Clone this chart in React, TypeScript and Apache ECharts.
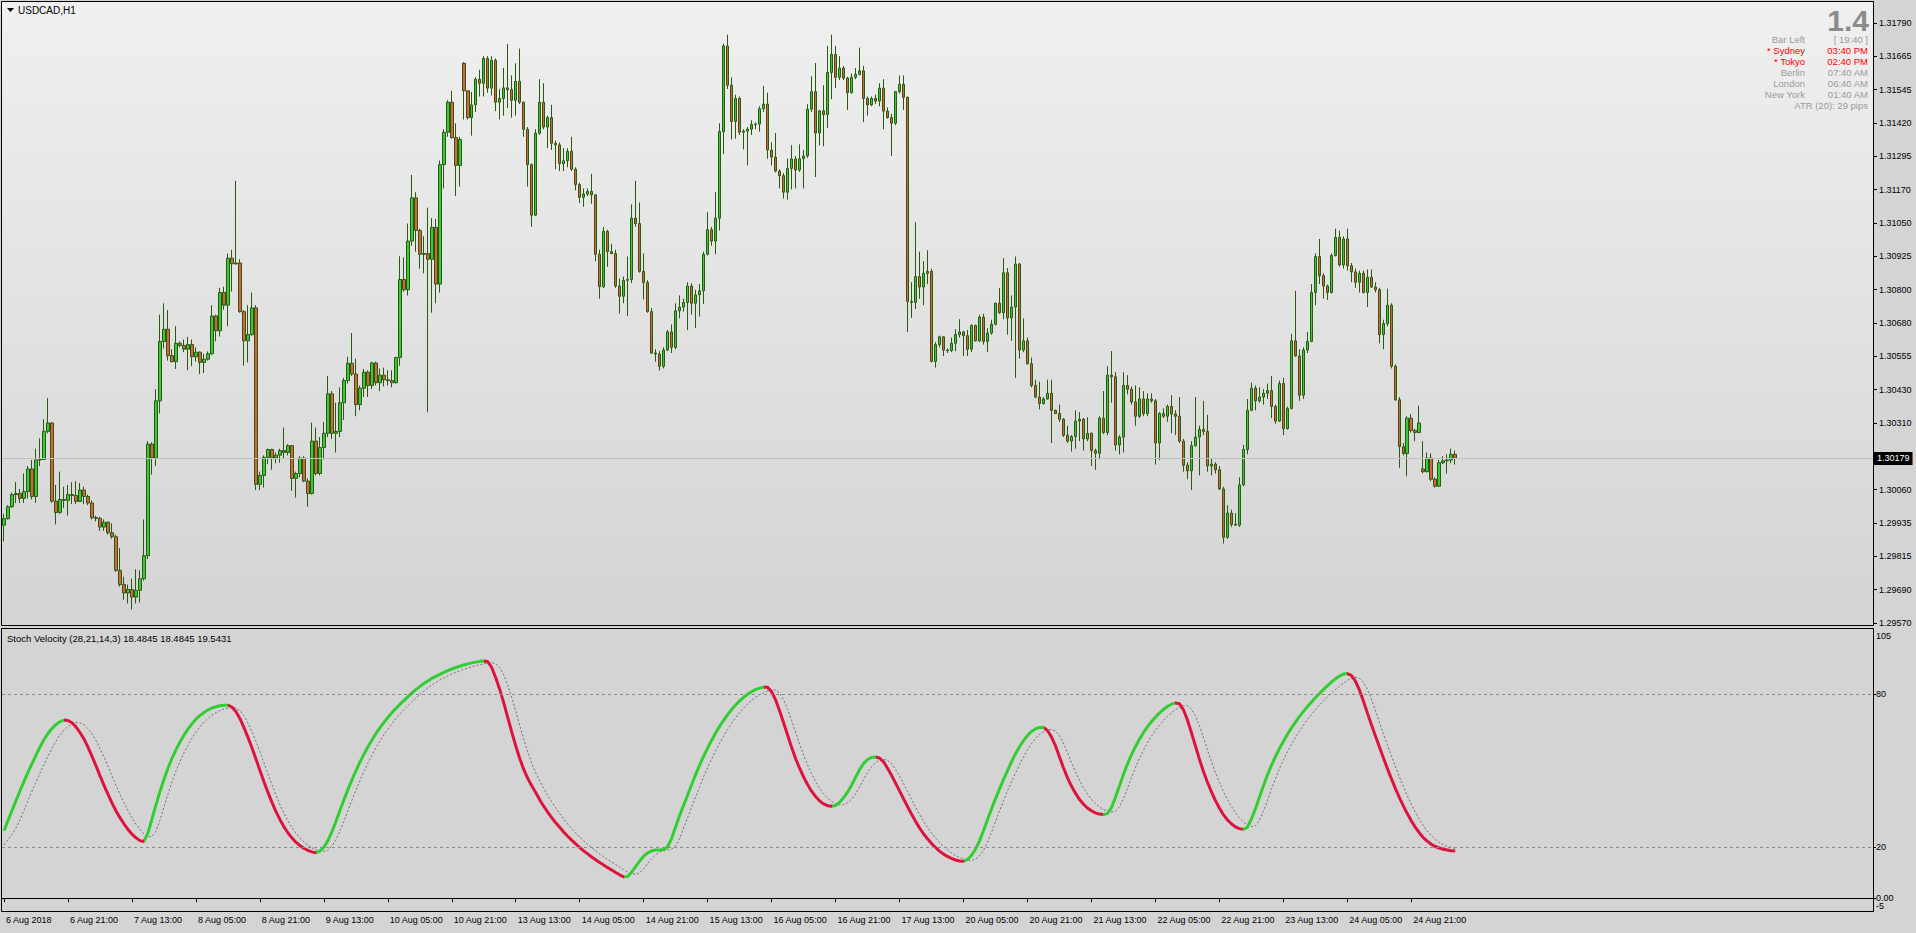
import { useEffect, useRef } from "react";
import * as echarts from "echarts";

// [open, close, low, high]
const week1: number[][] = [
  [1.29932,1.29956,1.29872,1.29974],[1.29956,1.30000,1.29953,1.30006],[1.30000,1.30045,1.29996,1.30052],[1.30045,1.30049,1.30014,1.30092],[1.30049,1.30031,1.30014,1.30066],
  [1.30031,1.30056,1.30014,1.30123],[1.30056,1.30140,1.30031,1.30151],[1.30140,1.30038,1.30027,1.30173],[1.30038,1.30173,1.30014,1.30215],[1.30173,1.30175,1.30151,1.30253],
  [1.30175,1.30279,1.30173,1.30324],[1.30279,1.30310,1.30272,1.30402],[1.30310,1.30021,1.30014,1.30314],[1.30021,1.29979,1.29935,1.30081],[1.29979,1.30027,1.29974,1.30130],
  [1.30027,1.30024,1.29996,1.30074],[1.30024,1.30045,1.29967,1.30081],[1.30045,1.30042,1.30010,1.30091],[1.30042,1.30020,1.30010,1.30095],[1.30020,1.30062,1.30017,1.30088],
  [1.30062,1.30038,1.30010,1.30074],[1.30038,1.30014,1.30006,1.30045],[1.30014,1.29960,1.29953,1.30024],[1.29960,1.29957,1.29946,1.29967],[1.29957,1.29925,1.29911,1.29963],
  [1.29925,1.29943,1.29911,1.29953],[1.29943,1.29904,1.29897,1.29946],[1.29904,1.29889,1.29882,1.29939],[1.29889,1.29765,1.29759,1.29897],[1.29765,1.29712,1.29705,1.29847],
  [1.29712,1.29681,1.29656,1.29741],[1.29681,1.29694,1.29642,1.29712],[1.29694,1.29666,1.29620,1.29734],[1.29666,1.29691,1.29642,1.29769],[1.29691,1.29734,1.29646,1.29765],
  [1.29734,1.29819,1.29727,1.29953],[1.29819,1.30232,1.29807,1.30243],[1.30232,1.30180,1.30119,1.30239],[1.30180,1.30392,1.30151,1.30435],[1.30392,1.30612,1.30345,1.30711],
  [1.30612,1.30657,1.30586,1.30753],[1.30657,1.30559,1.30541,1.30728],[1.30559,1.30537,1.30534,1.30583],[1.30537,1.30605,1.30510,1.30668],[1.30605,1.30597,1.30590,1.30612],
  [1.30597,1.30583,1.30572,1.30619],[1.30583,1.30600,1.30505,1.30629],[1.30600,1.30555,1.30520,1.30619],[1.30555,1.30572,1.30537,1.30590],[1.30572,1.30534,1.30491,1.30575],
  [1.30534,1.30546,1.30495,1.30566],[1.30546,1.30566,1.30541,1.30575],[1.30566,1.30706,1.30562,1.30746],[1.30706,1.30651,1.30612,1.30711],[1.30651,1.30793,1.30630,1.30810],
  [1.30793,1.30746,1.30729,1.30814],[1.30746,1.30920,1.30668,1.30937],[1.30920,1.30899,1.30796,1.30951],[1.30899,1.30902,1.30895,1.31206],[1.30902,1.30722,1.30718,1.30916],
  [1.30722,1.30614,1.30522,1.30728],[1.30614,1.30637,1.30534,1.30746],[1.30637,1.30736,1.30633,1.30793],[1.30736,1.30083,1.30062,1.30746],[1.30083,1.30116,1.30062,1.30130],
  [1.30116,1.30183,1.30071,1.30190],[1.30183,1.30212,1.30158,1.30215],[1.30212,1.30180,1.30137,1.30215],[1.30180,1.30191,1.30161,1.30201],[1.30191,1.30208,1.30163,1.30215],
  [1.30208,1.30201,1.30180,1.30293],[1.30201,1.30226,1.30190,1.30232],[1.30226,1.30105,1.30059,1.30229],[1.30105,1.30123,1.30034,1.30130],[1.30123,1.30180,1.30109,1.30187],
  [1.30180,1.30095,1.30091,1.30187],[1.30095,1.30049,1.30000,1.30105],[1.30049,1.30243,1.30045,1.30311],[1.30243,1.30123,1.30116,1.30293],[1.30123,1.30219,1.30116,1.30258],
  [1.30219,1.30272,1.30175,1.30314],[1.30272,1.30418,1.30258,1.30484],[1.30418,1.30272,1.30251,1.30428],[1.30272,1.30279,1.30201,1.30385],[1.30279,1.30385,1.30258,1.30442],
  [1.30385,1.30467,1.30321,1.30477],[1.30467,1.30531,1.30456,1.30555],[1.30531,1.30491,1.30484,1.30643],[1.30491,1.30378,1.30335,1.30548],[1.30378,1.30439,1.30357,1.30449],
  [1.30439,1.30498,1.30406,1.30510],[1.30498,1.30449,1.30406,1.30505],[1.30449,1.30532,1.30435,1.30537],[1.30532,1.30459,1.30449,1.30537],[1.30459,1.30487,1.30428,1.30512],
  [1.30487,1.30470,1.30445,1.30515],[1.30470,1.30467,1.30449,1.30505],[1.30467,1.30459,1.30442,1.30505],[1.30459,1.30552,1.30456,1.30555],[1.30552,1.30841,1.30522,1.30927],
  [1.30841,1.30803,1.30796,1.30923],[1.30803,1.30983,1.30782,1.31048],[1.30983,1.31143,1.30966,1.31228],[1.31143,1.31022,1.30944,1.31164],[1.31022,1.30934,1.30881,1.31029],
  [1.30934,1.30937,1.30864,1.31001],[1.30937,1.30916,1.30350,1.31107],[1.30916,1.31034,1.30718,1.31068],[1.31034,1.30824,1.30753,1.31065],[1.30824,1.31266,1.30793,1.31281],
  [1.31266,1.31386,1.31178,1.31397],[1.31386,1.31497,1.31369,1.31504],[1.31497,1.31366,1.31362,1.31539],[1.31366,1.31263,1.31150,1.31419],[1.31263,1.31359,1.31185,1.31369],
];

const week2: number[][] = [
  [1.31641,1.31539,1.31433,1.31645],[1.31539,1.31440,1.31433,1.31539],[1.31440,1.31487,1.31373,1.31535],[1.31487,1.31582,1.31461,1.31589],[1.31582,1.31567,1.31518,1.31617],
  [1.31567,1.31659,1.31518,1.31667],[1.31659,1.31549,1.31532,1.31667],[1.31549,1.31652,1.31522,1.31667],[1.31652,1.31497,1.31464,1.31659],[1.31497,1.31511,1.31433,1.31546],
  [1.31511,1.31550,1.31447,1.31624],[1.31550,1.31543,1.31475,1.31713],[1.31543,1.31504,1.31440,1.31596],[1.31504,1.31574,1.31447,1.31641],[1.31574,1.31497,1.31490,1.31695],
  [1.31497,1.31397,1.31369,1.31499],[1.31397,1.31266,1.31185,1.31405],[1.31266,1.31079,1.31036,1.31270],[1.31079,1.31382,1.31076,1.31397],[1.31382,1.31497,1.31376,1.31582],
  [1.31497,1.31405,1.31397,1.31567],[1.31405,1.31440,1.31327,1.31447],[1.31440,1.31345,1.31320,1.31487],[1.31345,1.31339,1.31249,1.31355],[1.31339,1.31270,1.31242,1.31348],
  [1.31270,1.31280,1.31242,1.31327],[1.31280,1.31315,1.31256,1.31327],[1.31315,1.31249,1.31242,1.31369],[1.31249,1.31192,1.31171,1.31256],[1.31192,1.31145,1.31124,1.31199],
  [1.31145,1.31157,1.31110,1.31178],[1.31157,1.31167,1.31150,1.31178],[1.31167,1.31154,1.31121,1.31232],[1.31154,1.30934,1.30909,1.31157],[1.30934,1.30814,1.30770,1.30951],
  [1.30814,1.31019,1.30810,1.31036],[1.31019,1.30944,1.30888,1.31025],[1.30944,1.30937,1.30934,1.30973],[1.30937,1.30817,1.30810,1.30951],[1.30817,1.30779,1.30715,1.30845],
  [1.30779,1.30838,1.30753,1.30852],[1.30838,1.30841,1.30706,1.30926],[1.30841,1.31068,1.30828,1.31119],[1.31068,1.31048,1.31036,1.31206],[1.31048,1.30871,1.30866,1.31126],
  [1.30871,1.30830,1.30767,1.30937],[1.30830,1.30722,1.30718,1.30838],[1.30722,1.30569,1.30566,1.30736],[1.30569,1.30565,1.30537,1.30583],[1.30565,1.30520,1.30504,1.30576],
  [1.30520,1.30580,1.30512,1.30590],[1.30580,1.30647,1.30576,1.30654],[1.30647,1.30590,1.30569,1.30675],[1.30590,1.30725,1.30583,1.30753],[1.30725,1.30739,1.30697,1.30782],
  [1.30739,1.30756,1.30722,1.30770],[1.30756,1.30817,1.30654,1.30831],[1.30817,1.30753,1.30711,1.30827],[1.30753,1.30784,1.30661,1.30803],[1.30784,1.30799,1.30704,1.30824],
  [1.30799,1.30934,1.30750,1.30944],[1.30934,1.31025,1.30930,1.31090],[1.31025,1.30983,1.30966,1.31036],[1.30983,1.31068,1.30934,1.31164],[1.31068,1.31388,1.31022,1.31419],
  [1.31388,1.31705,1.31305,1.31713],[1.31705,1.31560,1.31546,1.31747],[1.31560,1.31426,1.31359,1.31589],[1.31426,1.31511,1.31362,1.31525],[1.31511,1.31386,1.31376,1.31518],
  [1.31386,1.31390,1.31322,1.31397],[1.31390,1.31397,1.31263,1.31405],[1.31397,1.31414,1.31376,1.31430],[1.31414,1.31416,1.31397,1.31422],[1.31416,1.31473,1.31388,1.31482],
  [1.31473,1.31490,1.31461,1.31557],[1.31490,1.31320,1.31288,1.31532],[1.31320,1.31294,1.31263,1.31348],[1.31294,1.31242,1.31237,1.31383],[1.31242,1.31225,1.31178,1.31249],
  [1.31225,1.31164,1.31140,1.31235],[1.31164,1.31252,1.31136,1.31288],[1.31252,1.31287,1.31174,1.31338],[1.31287,1.31246,1.31178,1.31298],[1.31246,1.31288,1.31239,1.31341],
  [1.31288,1.31298,1.31178,1.31320],[1.31298,1.31471,1.31291,1.31490],[1.31471,1.31536,1.31461,1.31593],[1.31536,1.31383,1.31220,1.31642],[1.31383,1.31465,1.31337,1.31468],
  [1.31465,1.31451,1.31334,1.31560],[1.31451,1.31607,1.31402,1.31705],[1.31607,1.31674,1.31508,1.31747],[1.31674,1.31589,1.31549,1.31705],[1.31589,1.31623,1.31579,1.31667],
  [1.31623,1.31586,1.31579,1.31631],[1.31586,1.31532,1.31468,1.31591],[1.31532,1.31589,1.31529,1.31603],[1.31589,1.31600,1.31582,1.31624],[1.31600,1.31613,1.31596,1.31699],
  [1.31613,1.31511,1.31423,1.31631],[1.31511,1.31487,1.31447,1.31518],[1.31487,1.31511,1.31482,1.31518],[1.31511,1.31501,1.31490,1.31525],[1.31501,1.31549,1.31482,1.31567],
  [1.31549,1.31464,1.31397,1.31582],[1.31464,1.31440,1.31436,1.31478],[1.31440,1.31419,1.31298,1.31454],[1.31419,1.31536,1.31412,1.31539],[1.31536,1.31563,1.31529,1.31596],
  [1.31563,1.31515,1.31468,1.31596],[1.31515,1.30760,1.30647,1.31518],[1.30760,1.30756,1.30699,1.30831],[1.30756,1.30852,1.30732,1.31053],[1.30852,1.30813,1.30770,1.30944],
  [1.30813,1.30864,1.30746,1.30909],[1.30864,1.30871,1.30824,1.30949],[1.30871,1.30538,1.30534,1.30881],[1.30538,1.30600,1.30515,1.30609],[1.30600,1.30629,1.30590,1.30633],
];

const week3: number[][] = [
  [1.30629,1.30580,1.30558,1.30632],[1.30580,1.30578,1.30569,1.30586],[1.30578,1.30605,1.30572,1.30626],[1.30605,1.30637,1.30576,1.30657],[1.30637,1.30647,1.30626,1.30694],
  [1.30647,1.30633,1.30558,1.30651],[1.30633,1.30583,1.30558,1.30654],[1.30583,1.30671,1.30572,1.30675],[1.30671,1.30614,1.30612,1.30674],[1.30614,1.30702,1.30609,1.30711],
  [1.30702,1.30612,1.30600,1.30714],[1.30612,1.30643,1.30572,1.30661],[1.30643,1.30675,1.30637,1.30692],[1.30675,1.30753,1.30671,1.30756],[1.30753,1.30718,1.30714,1.30810],
  [1.30718,1.30866,1.30694,1.30920],[1.30866,1.30699,1.30637,1.30883],[1.30699,1.30739,1.30614,1.30782],[1.30739,1.30898,1.30477,1.30926],[1.30898,1.30580,1.30548,1.30902],
  [1.30580,1.30614,1.30572,1.30697],[1.30614,1.30529,1.30527,1.30626],[1.30529,1.30449,1.30442,1.30552],[1.30449,1.30406,1.30402,1.30470],[1.30406,1.30382,1.30360,1.30463],
  [1.30382,1.30399,1.30378,1.30406],[1.30399,1.30420,1.30396,1.30470],[1.30420,1.30357,1.30236,1.30470],[1.30357,1.30345,1.30343,1.30360],[1.30345,1.30324,1.30314,1.30378],
  [1.30324,1.30265,1.30258,1.30328],[1.30265,1.30243,1.30236,1.30300],[1.30243,1.30260,1.30204,1.30265],[1.30260,1.30317,1.30215,1.30357],[1.30317,1.30324,1.30243,1.30350],
  [1.30324,1.30251,1.30208,1.30328],[1.30251,1.30272,1.30243,1.30331],[1.30272,1.30208,1.30151,1.30275],[1.30208,1.30198,1.30137,1.30215],[1.30198,1.30328,1.30175,1.30335],
  [1.30328,1.30275,1.30269,1.30428],[1.30275,1.30487,1.30265,1.30520],[1.30487,1.30481,1.30385,1.30576],[1.30481,1.30229,1.30208,1.30498],[1.30229,1.30258,1.30194,1.30265],
  [1.30258,1.30449,1.30201,1.30498],[1.30449,1.30435,1.30416,1.30487],[1.30435,1.30388,1.30378,1.30445],[1.30388,1.30335,1.30300,1.30449],[1.30335,1.30399,1.30328,1.30442],
  [1.30399,1.30345,1.30335,1.30428],[1.30345,1.30399,1.30335,1.30420],[1.30399,1.30392,1.30385,1.30420],[1.30392,1.30236,1.30156,1.30399],[1.30236,1.30345,1.30173,1.30350],
  [1.30345,1.30335,1.30328,1.30364],[1.30335,1.30371,1.30314,1.30378],[1.30371,1.30343,1.30272,1.30413],[1.30343,1.30335,1.30265,1.30357],[1.30335,1.30243,1.30236,1.30406],
  [1.30243,1.30154,1.30130,1.30251],[1.30154,1.30133,1.30102,1.30165],[1.30133,1.30226,1.30062,1.30243],[1.30226,1.30258,1.30222,1.30406],[1.30258,1.30286,1.30116,1.30300],
  [1.30286,1.30279,1.30265,1.30392],[1.30279,1.30151,1.30130,1.30340],[1.30151,1.30158,1.30116,1.30180],[1.30158,1.30137,1.30123,1.30165],[1.30137,1.30066,1.30062,1.30151],
  [1.30066,1.29887,1.29864,1.30074],[1.29887,1.29977,1.29882,1.30006],[1.29977,1.29935,1.29925,1.29989],[1.29935,1.29932,1.29929,1.29977],[1.29932,1.30081,1.29925,1.30109],
  [1.30081,1.30212,1.30076,1.30229],[1.30212,1.30357,1.30194,1.30399],[1.30357,1.30439,1.30354,1.30459],[1.30439,1.30392,1.30357,1.30449],[1.30392,1.30406,1.30385,1.30442],
  [1.30406,1.30420,1.30378,1.30435],[1.30420,1.30430,1.30399,1.30456],[1.30430,1.30371,1.30328,1.30484],[1.30371,1.30317,1.30307,1.30378],[1.30317,1.30456,1.30314,1.30467],
  [1.30456,1.30289,1.30265,1.30477],[1.30289,1.30364,1.30286,1.30371],[1.30364,1.30614,1.30360,1.30640],[1.30614,1.30558,1.30555,1.30799],[1.30558,1.30413,1.30392,1.30583],
  [1.30413,1.30580,1.30399,1.30590],[1.30580,1.30612,1.30569,1.30647],[1.30612,1.30793,1.30609,1.30824],[1.30793,1.30926,1.30746,1.30937],[1.30926,1.30855,1.30824,1.30991],
  [1.30855,1.30817,1.30770,1.30864],[1.30817,1.30793,1.30765,1.30822],[1.30793,1.30930,1.30789,1.30937],[1.30930,1.30997,1.30926,1.31029],[1.30997,1.30895,1.30888,1.31022],
  [1.30895,1.30991,1.30881,1.31001],[1.30991,1.30892,1.30874,1.31029],[1.30892,1.30869,1.30831,1.30902],[1.30869,1.30831,1.30810,1.30881],[1.30831,1.30864,1.30793,1.30874],
  [1.30864,1.30793,1.30789,1.30874],[1.30793,1.30849,1.30739,1.30878],[1.30849,1.30813,1.30810,1.30878],[1.30813,1.30803,1.30793,1.30831],[1.30803,1.30637,1.30605,1.30810],
  [1.30637,1.30678,1.30583,1.30692],[1.30678,1.30746,1.30668,1.30807],[1.30746,1.30520,1.30512,1.30753],[1.30520,1.30396,1.30392,1.30527],[1.30396,1.30222,1.30144,1.30406],
  [1.30222,1.30197,1.30190,1.30236],[1.30197,1.30328,1.30113,1.30335],[1.30328,1.30282,1.30275,1.30343],[1.30282,1.30275,1.30243,1.30289],[1.30275,1.30310,1.30272,1.30374],
];

const week4: number[][] = [
  [1.30140,1.30130,1.30123,1.30243],[1.30130,1.30180,1.30127,1.30201],[1.30180,1.30102,1.30095,1.30198],[1.30102,1.30076,1.30071,1.30109],[1.30076,1.30163,1.30074,1.30173],
  [1.30163,1.30170,1.30158,1.30187],[1.30170,1.30173,1.30123,1.30194],[1.30173,1.30194,1.30161,1.30215],[1.30194,1.30179,1.30156,1.30208],
];

const stochMain: number[] = [
  26.5,30.5,34.4,38.3,42.1,45.8,49.4,52.8,56.1,59.3,
  62.2,64.6,66.6,68.1,69.2,69.9,69.7,68.8,67.2,65.0,
  62.5,59.3,55.7,52.0,48.1,44.3,40.8,37.4,34.3,31.6,
  29.2,27.0,25.2,23.7,22.6,22.2,25.5,31.0,36.5,41.8,
  46.6,51.0,54.8,58.2,61.2,63.9,66.3,68.4,70.2,71.6,
  72.8,73.8,74.6,75.1,75.5,75.7,75.7,75.0,73.2,70.5,
  67.0,63.2,59.1,54.7,50.2,45.8,41.6,37.7,34.1,30.9,
  28.1,25.7,23.7,22.0,20.7,19.6,18.8,18.2,17.8,18.5,
  20.0,22.5,26.0,30.0,34.3,38.5,42.5,46.3,49.9,53.3,
  56.4,59.3,62.0,64.5,66.8,68.9,70.9,72.7,74.4,76.0,
  77.5,79.0,80.4,81.8,83.0,84.2,85.2,86.2,87.0,87.8,
  88.6,89.3,89.9,90.5,91.0,91.5,91.9,92.3,92.6,92.9,
  93.0,92.8,90.5,86.5,81.9,76.6,70.9,65.2,59.8,54.8,
  50.5,47.0,44.1,41.5,38.6,36.1,33.8,31.6,29.6,27.8,
  26.0,24.3,22.8,21.3,19.9,18.6,17.4,16.2,15.1,14.0,
  13.0,12.0,11.1,10.1,9.2,8.4,8.5,10.2,12.4,14.6,
  16.5,17.8,18.6,18.9,18.9,19.1,20.2,23.5,28.0,32.5,
  36.5,40.5,44.5,48.5,52.2,55.7,58.9,62.0,64.8,67.4,
  69.8,72.0,74.0,75.8,77.4,78.8,80.0,81.0,81.8,82.4,
  82.8,82.7,81.0,77.8,73.5,68.8,64.0,59.2,54.8,51.0,
  47.6,44.6,42.0,39.9,38.2,37.0,36.3,36.1,36.4,37.6,
  39.4,41.6,44.3,47.4,50.4,52.8,54.4,55.2,55.4,55.0,
  53.5,51.0,48.2,45.2,42.1,39.0,36.0,33.0,30.2,27.6,
  25.3,23.3,21.5,19.9,18.5,17.3,16.4,15.6,15.0,14.6,
  14.5,15.2,16.8,19.2,22.5,26.5,30.8,35.0,39.0,42.8,
  46.5,50.0,53.5,56.6,59.4,61.8,63.8,65.4,66.4,67.0,
  67.0,65.8,63.3,59.8,55.5,51.2,47.3,44.0,41.2,38.8,
  36.9,35.4,34.3,33.5,33.0,32.8,33.2,35.5,39.5,44.0,
  48.5,52.6,56.2,59.4,62.3,64.9,67.2,69.2,71.0,72.6,
  74.0,75.2,76.1,76.6,76.3,74.0,70.0,65.0,59.8,54.6,
  49.8,45.6,41.8,38.4,35.4,32.8,30.8,29.2,28.0,27.3,
  27.0,27.8,31.0,35.0,39.5,44.0,48.2,52.0,55.4,58.6,
  61.5,64.2,66.7,69.0,71.2,73.2,75.1,76.9,78.6,80.2,
  81.8,83.3,84.7,86.0,87.1,87.9,88.1,87.4,85.2,81.8,
  77.5,72.8,68.2,63.8,59.5,55.2,51.0,47.0,43.2,39.6,
  36.3,33.2,30.4,27.9,25.7,23.8,22.4,21.2,20.3,19.7,
  19.2,18.9,18.6,18.4845,
];

const stochSignal: number[] = [
  21.0,23.0,25.0,27.5,30.8,34.5,38.3,42.0,45.6,49.1,
  52.5,55.7,58.8,61.6,64.0,65.9,67.4,68.4,68.9,68.8,
  68.0,66.5,64.5,61.9,58.8,55.4,51.8,48.0,44.3,40.8,
  37.5,34.4,31.6,29.1,27.0,25.2,24.1,24.2,26.3,30.5,
  35.6,40.8,45.5,49.8,53.6,57.0,60.0,62.7,65.1,67.2,
  69.0,70.5,71.8,72.8,73.6,74.2,74.6,74.8,74.6,73.6,
  71.6,68.8,65.4,61.6,57.5,53.2,48.8,44.6,40.6,36.8,
  33.4,30.4,27.8,25.6,23.7,22.1,20.8,19.8,19.0,18.5,
  18.4,18.9,20.4,22.9,26.2,30.1,34.2,38.3,42.3,46.0,
  49.6,52.9,56.0,58.9,61.6,64.0,66.3,68.4,70.4,72.2,
  73.9,75.5,77.0,78.5,79.9,81.2,82.5,83.6,84.6,85.6,
  86.4,87.2,87.9,88.6,89.2,89.8,90.3,90.8,91.2,91.6,
  91.9,92.2,92.3,92.0,90.4,87.6,83.6,78.8,73.4,67.8,
  62.4,57.4,53.0,49.2,46.0,43.1,40.4,37.8,35.4,33.2,
  31.1,29.1,27.3,25.6,24.0,22.5,21.1,19.8,18.6,17.4,
  16.3,15.2,14.2,13.2,12.2,11.2,10.3,9.6,9.4,10.0,
  11.6,13.6,15.5,17.0,18.1,18.6,18.9,19.3,20.5,23.4,
  27.5,31.6,35.8,39.8,43.8,47.6,51.2,54.6,57.8,60.8,
  63.6,66.2,68.6,70.8,72.8,74.6,76.2,77.6,78.8,79.8,
  80.6,81.3,81.8,81.7,80.5,77.8,74.1,69.8,65.2,60.5,
  56.2,52.3,48.8,45.8,43.2,41.0,39.3,38.0,37.1,36.6,
  36.7,37.4,38.9,41.0,43.6,46.5,49.3,51.6,53.3,54.2,
  54.5,54.1,52.8,50.6,47.9,45.0,41.9,38.8,35.8,32.9,
  30.2,27.8,25.6,23.6,21.9,20.3,19.0,17.8,16.8,16.0,
  15.4,15.0,14.8,15.3,16.6,18.8,22.0,25.8,30.0,34.2,
  38.2,42.0,45.6,49.1,52.4,55.4,58.2,60.6,62.6,64.2,
  65.3,66.0,66.2,65.6,63.8,60.9,57.2,53.3,49.6,46.3,
  43.4,40.9,38.8,37.1,35.8,34.8,34.1,33.8,34.2,35.9,
  39.0,43.0,47.2,51.2,54.8,58.0,60.9,63.5,65.8,67.9,
  69.7,71.3,72.7,73.9,74.9,75.6,75.5,74.2,71.6,67.8,
  63.2,58.3,53.6,49.3,45.4,41.9,38.8,36.0,33.6,31.6,
  30.0,28.8,28.1,28.4,30.5,34.0,38.2,42.6,46.8,50.7,
  54.2,57.4,60.3,63.0,65.5,67.8,70.0,72.0,73.9,75.7,
  77.3,78.9,80.4,81.8,83.1,84.3,85.4,86.2,86.6,86.3,
  84.8,82.0,78.2,73.8,69.2,64.7,60.3,56.0,51.8,47.8,
  43.9,40.3,36.9,33.8,31.0,28.5,26.4,24.6,23.1,21.9,
  21.0,20.3,19.9,19.5431,
];

const priceLabels: string[] = [
  "1.29570","1.29690","1.29815","1.29935","1.30060","1.30185","1.30310","1.30430","1.30555","1.30680",
  "1.30800","1.30925","1.31050","1.31170","1.31295","1.31420","1.31545","1.31665","1.31790",
];
const timeLabels: string[] = [
  "6 Aug 2018","6 Aug 21:00","7 Aug 13:00","8 Aug 05:00","8 Aug 21:00","9 Aug 13:00","10 Aug 05:00","10 Aug 21:00",
  "13 Aug 13:00","14 Aug 05:00","14 Aug 21:00","15 Aug 13:00","16 Aug 05:00","16 Aug 21:00","17 Aug 13:00",
  "20 Aug 05:00","20 Aug 21:00","21 Aug 13:00","22 Aug 05:00","22 Aug 21:00","23 Aug 13:00","24 Aug 05:00","24 Aug 21:00",
];
const stochLevels: number[] = [80, 20];
const lastPrice = 1.30179;
const LABEL_STEP = 16;
const SLOTS = 468;

const GREEN = "#32CD32";
const RED = "#DC143C";
const FONT = '"Liberation Sans", Arial, sans-serif';

export default function App() {
  const ref = useRef<HTMLDivElement>(null);

  useEffect(() => {
    document.body.style.margin = "0";
    const chart = echarts.init(ref.current as HTMLDivElement, null, { renderer: "svg" });

    const candles = [...week1, ...week2, ...week3, ...week4];
    const cats = Array.from({ length: SLOTS }, (_, i) => String(i));
    const pLo = parseFloat(priceLabels[0]);
    const pHi = parseFloat(priceLabels[priceLabels.length - 1]);
    const step = (pHi - pLo) / (priceLabels.length - 1);
    const priceTicks = priceLabels.map((_, k) => pLo + k * step);
    const pxPerPrice = 600 / (pHi - pLo);
    const yMin = pLo - 2 / pxPerPrice;
    const yMax = pLo + 621 / pxPerPrice;
    const lastLabelIdx = (timeLabels.length - 1) * LABEL_STEP;
    const showTime = (i: number) => i % LABEL_STEP === 0 && i <= lastLabelIdx;

    // colour runs of the velocity line: rising = green, falling = red
    const pieces: any[] = [];
    let runStart = 0;
    let runUp = stochMain[1] >= stochMain[0];
    for (let i = 2; i < stochMain.length; i++) {
      const up = stochMain[i] >= stochMain[i - 1];
      if (up !== runUp) {
        pieces.push(runStart === 0 ? { gte: 0, lte: i - 1, color: runUp ? GREEN : RED } : { gt: runStart, lte: i - 1, color: runUp ? GREEN : RED });
        runStart = i - 1;
        runUp = up;
      }
    }
    pieces.push({ gt: runStart, lte: SLOTS, color: runUp ? GREEN : RED });

    const txt = (text: string, x: number, y: number, opts: any = {}) => ({
      type: "text",
      z: 20,
      silent: true,
      style: {
        text,
        x,
        y,
        fill: opts.fill || "#000",
        font: opts.font || `9px ${FONT}`,
        align: opts.align || "left",
        verticalAlign: "middle",
      },
    });

    const gray = "#9a9a9a";
    const red = "#ff0000";
    const infoRows: [string, string, string][] = [
      ["Bar Left", "[ 19:40 ]", gray],
      ["* Sydney", "03:40 PM", red],
      ["* Tokyo", "02:40 PM", red],
      ["Berlin", "07:40 AM", gray],
      ["London", "06:40 AM", gray],
      ["New York", "01:40 AM", gray],
    ];
    const infoTexts: any[] = [];
    infoRows.forEach((r, k) => {
      const y = 39 + k * 11;
      infoTexts.push(txt(r[0], 1805, y, { fill: r[2], align: "right", font: `9.5px ${FONT}` }));
      infoTexts.push(txt(r[1], 1868, y, { fill: r[2], align: "right", font: `9.5px ${FONT}` }));
    });
    infoTexts.push(txt("ATR (20): 29 pips", 1868, 105, { fill: gray, align: "right", font: `9.5px ${FONT}` }));

    const option: any = {
      animation: false,
      textStyle: { fontFamily: FONT },
      grid: [
        { left: 2, top: 2, width: 1871, height: 623 },
        { left: 2, top: 630.5, width: 1871, height: 280.5 },
      ],
      xAxis: [
        {
          type: "category",
          gridIndex: 0,
          data: cats,
          boundaryGap: true,
          axisLine: { show: false },
          axisTick: { show: false },
          axisLabel: { show: false },
          splitLine: { show: false },
        },
        {
          type: "category",
          gridIndex: 1,
          data: cats,
          boundaryGap: true,
          axisLine: { show: true, lineStyle: { color: "#000", width: 1 } },
          axisTick: { show: true, alignWithLabel: true, interval: (i: number) => showTime(i), length: 4, lineStyle: { color: "#000" } },
          axisLabel: {
            show: true,
            interval: (i: number) => showTime(i),
            formatter: (_v: string, i: number) => timeLabels[i / LABEL_STEP] || "",
            align: "left",
            margin: 4,
            padding: [0, 0, 0, 2],
            color: "#000",
            fontSize: 9,
            fontFamily: FONT,
          },
          splitLine: { show: false },
        },
      ],
      yAxis: [
        {
          type: "value",
          gridIndex: 0,
          position: "right",
          min: yMin,
          max: yMax,
          axisLine: { show: true, lineStyle: { color: "#000", width: 1 } },
          axisTick: { show: true, length: 4, customValues: priceTicks, lineStyle: { color: "#000" } },
          axisLabel: {
            show: true,
            customValues: priceTicks.filter((_, k) => k !== 5),
            formatter: (v: number) => priceLabels[Math.round((v - pLo) / step)] || "",
            margin: 6,
            color: "#000",
            fontSize: 9,
            fontFamily: FONT,
          },
          splitLine: { show: false },
        },
        {
          type: "value",
          gridIndex: 1,
          position: "right",
          min: -5,
          max: 105,
          axisLine: { show: true, lineStyle: { color: "#000", width: 1 } },
          axisTick: { show: true, length: 3, customValues: [0, 20, 80], lineStyle: { color: "#000" } },
          axisLabel: {
            show: true,
            customValues: [0, 20, 80],
            formatter: (v: number) => (v === 0 ? "0.00" : String(v)),
            margin: 3,
            color: "#000",
            fontSize: 9,
            fontFamily: FONT,
          },
          splitLine: { show: false },
        },
      ],
      visualMap: {
        show: false,
        type: "piecewise",
        seriesIndex: 1,
        dimension: 0,
        pieces,
        outOfRange: { color: GREEN },
      },
      series: [
        {
          type: "candlestick",
          xAxisIndex: 0,
          yAxisIndex: 0,
          data: candles,
          barWidth: 3,
          itemStyle: {
            color: "#33CC33",
            color0: "#E0603C",
            borderColor: "#2A5A12",
            borderColor0: "#2A5A12",
            borderWidth: 1,
          },
          markLine: {
            silent: true,
            precision: 5,
            symbol: ["none", "none"],
            lineStyle: { color: "#c0c0c0", type: "solid", width: 1 },
            label: {
              show: true,
              position: "end",
              distance: 1,
              formatter: lastPrice.toFixed(5),
              backgroundColor: "#000",
              color: "#fff",
              padding: [2, 3, 2, 3],
              fontSize: 9,
              fontFamily: FONT,
            },
            data: [{ yAxis: lastPrice }],
          },
          z: 3,
        },
        {
          type: "line",
          name: "Stoch Velocity",
          xAxisIndex: 1,
          yAxisIndex: 1,
          data: stochMain,
          symbol: "none",
          lineStyle: { width: 3 },
          z: 4,
          markLine: {
            silent: true,
            symbol: ["none", "none"],
            label: { show: false },
            lineStyle: { color: "#8a8a8a", type: [3, 3], width: 1 },
            data: stochLevels.map((v) => ({ yAxis: v })),
          },
        },
        {
          type: "line",
          name: "Signal",
          xAxisIndex: 1,
          yAxisIndex: 1,
          data: stochSignal,
          symbol: "none",
          lineStyle: { width: 1, color: "#6e6e6e", type: [2, 2] },
          itemStyle: { color: "#6e6e6e" },
          z: 3,
        },
      ],
      graphic: [
        {
          type: "rect",
          z: -10,
          silent: true,
          shape: { x: 2, y: 2, width: 1871, height: 623 },
          style: {
            fill: new echarts.graphic.LinearGradient(0, 0, 0, 1, [
              { offset: 0, color: "#f0f0f0" },
              { offset: 1, color: "#d4d4d4" },
            ]),
          },
        },
        {
          type: "rect",
          z: 10,
          silent: true,
          shape: { x: 1.5, y: 1.5, width: 1872, height: 624 },
          style: { fill: "none", stroke: "#000", lineWidth: 1 },
        },
        {
          type: "rect",
          z: 10,
          silent: true,
          shape: { x: 1.5, y: 628.5, width: 1872, height: 283 },
          style: { fill: "none", stroke: "#000", lineWidth: 1 },
        },
        {
          type: "polygon",
          z: 20,
          silent: true,
          shape: { points: [[7, 8], [14, 8], [10.5, 12]] },
          style: { fill: "#000" },
        },
        txt("USDCAD,H1", 18, 10, { font: `10px ${FONT}` }),
        txt("Stoch Velocity (28,21,14,3) 18.4845 18.4845 19.5431", 7, 638, { font: `9.5px ${FONT}` }),
        txt("105", 1876, 636),
        txt("-5", 1876, 906),
        txt("1.4", 1869, 20, { fill: "#8c8c8c", align: "right", font: `bold 30px ${FONT}` }),
        ...infoTexts,
      ],
    };

    chart.setOption(option);
    return () => chart.dispose();
  }, []);

  return (
    <div
      ref={ref}
      style={{ position: "fixed", left: 0, top: 0, width: 1916, height: 933, background: "#d4d4d4" }}
    />
  );
}
